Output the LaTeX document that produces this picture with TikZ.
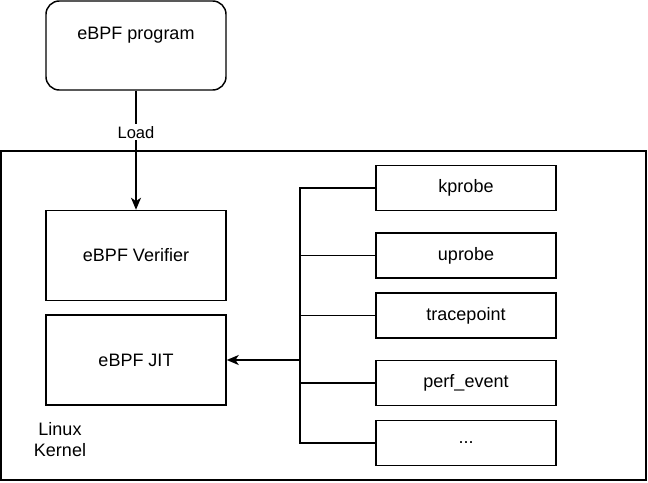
\documentclass[tikz,border=0pt]{standalone}
\usepackage{fontspec}
\setmainfont{Liberation Sans}
\usetikzlibrary{arrows.meta}
\begin{document}
\begin{tikzpicture}[x=0.75pt,y=-0.75pt,
  every node/.style={font=\fontsize{13.5}{15.75}\selectfont},
  box/.style={draw, line width=1.1pt, minimum width=135pt, minimum height=67.5pt, inner sep=0pt},
  small/.style={draw, line width=1.1pt, minimum width=135pt, minimum height=33.75pt, inner sep=0pt},
  wire/.style={line width=1.1pt},
  arr/.style={wire, -{Stealth[length=9pt,width=7.5pt,inset=2.5pt]}}
]
\useasboundingbox (0,0) rectangle (648,482);
% outer kernel box
\node[draw, line width=1.1pt, minimum width=483.75pt, minimum height=246.75pt, inner sep=0pt] (kernel) at (323.5,315.5) {};
\node[align=center] (kname) at (60,440) {Linux\\Kernel};
% program
\node[box, rounded corners=10pt, minimum height=66.75pt, label={[yshift=7.5pt]center:eBPF program}] (prog) at (136,45.5) {};
\node[box] (verif) at (136,255.5) {eBPF Verifier};
\node[box] (jit) at (136,360) {eBPF JIT};
% right column
\node[small] (kprobe) at (466,188) {kprobe};
\node[small] (uprobe) at (466,255.5) {uprobe};
\node[small] (trace) at (466,315.5) {tracepoint};
\node[small] (perf) at (466,383) {perf\_event};
\node[small] (dots) at (466,443) {...};
% bus
\coordinate (bustop) at (300,188);
\draw[wire] (kprobe.west) -- (bustop) |- (dots.west);
\draw[wire] (uprobe.west) -- (uprobe.west -| bustop);
\draw[wire] (trace.west) -- (trace.west -| bustop);
\draw[wire] (perf.west) -- (perf.west -| bustop);
\draw[arr] (jit.east -| bustop) -- (jit.east);
% load arrow
\draw[arr] (prog.south) -- node[pos=0.35, fill=white, inner sep=1.5pt, font=\fontsize{12.4}{14}\selectfont] (load) {Load} (verif.north);
\end{tikzpicture}
\end{document}
